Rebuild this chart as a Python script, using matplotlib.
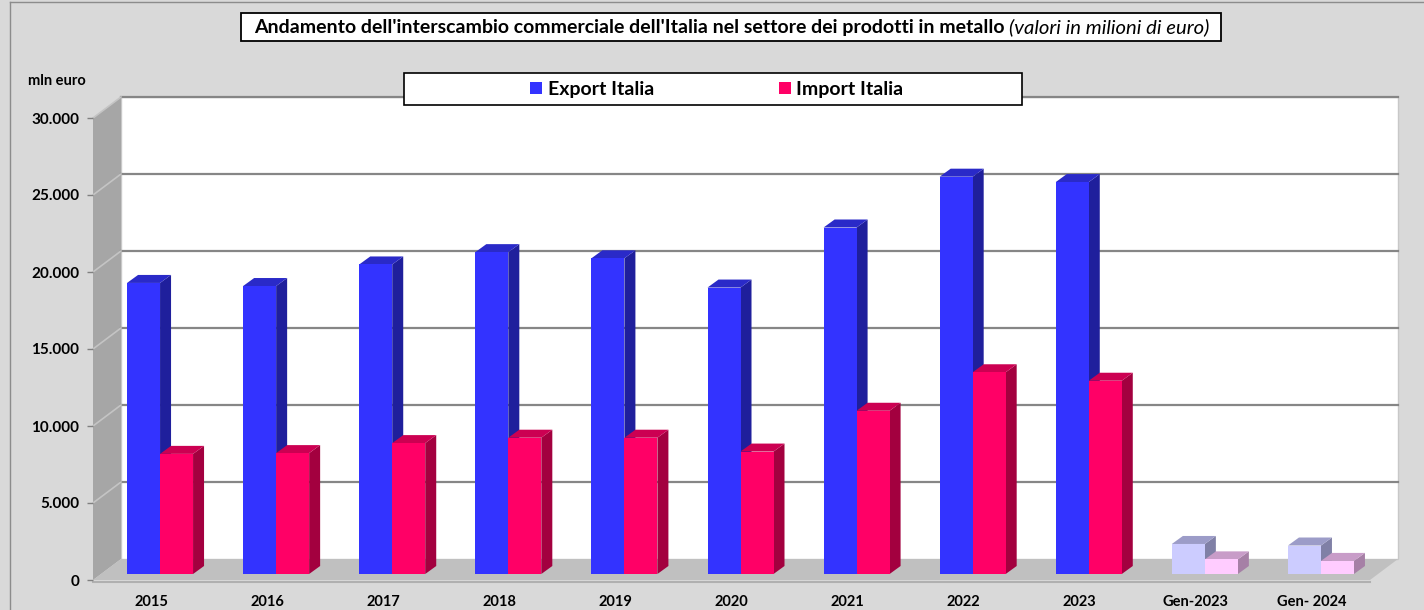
import matplotlib
matplotlib.use('Agg')
import matplotlib.pyplot as plt
from matplotlib.patches import Polygon, Rectangle, Patch
from matplotlib.lines import Line2D

# ---------------- data ----------------
categories = ['2015', '2016', '2017', '2018', '2019', '2020', '2021', '2022', '2023',
              'Gen-2023', 'Gen- 2024']
export_vals = [18900, 18700, 20100, 20900, 20500, 18600, 22500, 25800, 25450, 1950, 1850]
import_vals = [7800, 7850, 8500, 8850, 8850, 7950, 10600, 13100, 12550, 950, 850]
y_ticks = [0, 5000, 10000, 15000, 20000, 25000, 30000]
y_tick_labels = ['0', '5.000', '10.000', '15.000', '20.000', '25.000', '30.000']
series_names = ['Export Italia', 'Import Italia']
title_bold = "Andamento dell'interscambio commerciale dell'Italia nel settore dei prodotti in metallo"
title_italic = "(valori in milioni di euro)"
y_unit = 'mln euro'

# ---------------- styles ----------------
plt.rcParams['font.family'] = ['Lato', 'DejaVu Sans']
W, H = 1424, 610
BG = '#D9D9D9'
EXP = ('#3333FF', '#2A2AC8', '#1F1F9C')      # front, top, side
IMP = ('#FF0066', '#CC0052', '#A3003F')
EXP_L = ('#CCCCFF', '#9C9CC8', '#8080A6')
IMP_L = ('#FFCCFF', '#C89CC8', '#A680A6')
n_full = 9   # first categories drawn in full colours

fig = plt.figure(figsize=(W / 100, H / 100), dpi=100, facecolor=BG)

# front plane axes
ax = fig.add_axes([93 / W, (H - 580) / H, 1277 / W, 462 / H])
ax.set_xlim(0, len(categories))
ax.set_ylim(0, 30000)
ax.patch.set_visible(False)
for s in ax.spines.values():
    s.set_visible(False)

PX = len(categories) / 1277.0   # data units per pixel (x)
PY = 30000 / 462.0              # data units per pixel (y)
ncat = len(categories)
ymax = y_ticks[-1]

# 3D offsets (in pixels)
bx, by = 28 * PX, 21 * PY        # back wall
fx, fy = 9 * PX, 6 * PY          # bar front plane
dx, dy = 11 * PX, 8 * PY         # bar depth
bw = 33 * PX                     # bar width


def poly(pts, fc, z, ec='none', lw=0):
    ax.add_patch(Polygon(pts, closed=True, facecolor=fc, edgecolor=ec, lw=lw,
                         clip_on=False, zorder=z))


# walls & floor
poly([(bx, by), (ncat + bx, by), (ncat + bx, ymax + by), (bx, ymax + by)], 'white', 0,
     ec='#C8C8C8', lw=1)
poly([(0, 0), (bx, by), (bx, ymax + by), (0, ymax)], '#A6A6A6', 0.5)
poly([(0, 0), (ncat, 0), (ncat + bx, by), (bx, by)], '#C0C0C0', 0.6)
ax.add_line(Line2D([0, ncat], [-1.5 * PY, -1.5 * PY], color='#B0B0B0', lw=1.5,
                   clip_on=False, zorder=0.7))

# gridlines
for v in y_ticks[1:]:
    ax.add_line(Line2D([bx, ncat + bx], [v + by, v + by], color='#868686', lw=1.6,
                       clip_on=False, zorder=1))
    ax.add_line(Line2D([0, bx], [v, v + by], color='#C4C4C4', lw=1.2,
                       clip_on=False, zorder=1))


def bar3d(x0, val, cols, z):
    front, top, side = cols
    x1 = x0 + bw
    y0 = fy
    y1 = fy + val
    poly([(x1, y0), (x1 + dx, y0 + dy), (x1 + dx, y1 + dy), (x1, y1)], side, z)
    poly([(x0, y1), (x1, y1), (x1 + dx, y1 + dy), (x0 + dx, y1 + dy)], top, z)
    poly([(x0, y0), (x1, y0), (x1, y1), (x0, y1)], front, z)


for i, (e, m) in enumerate(zip(export_vals, import_vals)):
    ce, ci = (EXP, IMP) if i < n_full else (EXP_L, IMP_L)
    c = i + 0.5 + fx
    bar3d(c - bw, e, ce, 2 + i * 0.1)
    bar3d(c, m, ci, 2 + i * 0.1 + 0.05)

# axes ticks
ax.set_yticks(y_ticks)
ax.set_yticklabels(y_tick_labels, fontsize=11, fontweight='bold')
ax.tick_params(axis='y', length=4, width=1, color='#808080', pad=6)
ax.set_xticks([i + 0.5 for i in range(ncat)])
ax.set_xticklabels(categories, fontsize=10.5, fontweight='bold')
ax.tick_params(axis='x', length=0, pad=10.5)

# unit label
fig.text(28 / W, 1 - 81 / H, y_unit, ha='left', va='center', fontsize=10.5,
         fontweight='bold')

# title box
fig.patches.append(Rectangle((241 / W, 1 - 41 / H), (1221 - 241) / W, 28 / H,
                             transform=fig.transFigure, facecolor='white',
                             edgecolor='black', lw=1.3, zorder=5))
fig.text(1005 / W, 1 - 27 / H, title_bold, ha='right', va='center', fontsize=14.0,
         fontweight='bold', zorder=6)
fig.text(1009 / W, 1 - 27 / H, title_italic, ha='left', va='center', fontsize=14.6,
         style='italic', zorder=6)

# legend box
fig.patches.append(Rectangle((404 / W, 1 - 105 / H), (1022 - 404) / W, 32 / H,
                             transform=fig.transFigure, facecolor='white',
                             edgecolor='black', lw=1.2, zorder=5))
handles = [Patch(facecolor=EXP[0]), Patch(facecolor=IMP[0])]
leg = fig.legend(handles, series_names, loc='center', ncol=2, frameon=False,
                 bbox_to_anchor=(717 / W, 1 - 89 / H), bbox_transform=fig.transFigure,
                 handlelength=0.58, handleheight=0.58, handletextpad=0.3,
                 columnspacing=6.45, prop={'size': 14, 'weight': 'bold'})
leg.set_zorder(7)

# outer frame
fig.lines.append(Line2D([10 / W, 10 / W], [0, 1 - 2 / H], transform=fig.transFigure,
                        color='#8C8C8C', lw=1))
fig.lines.append(Line2D([10 / W, 1], [1 - 2 / H, 1 - 2 / H], transform=fig.transFigure,
                        color='#8C8C8C', lw=1))

fig.savefig('out.png', dpi=100, facecolor=BG)
